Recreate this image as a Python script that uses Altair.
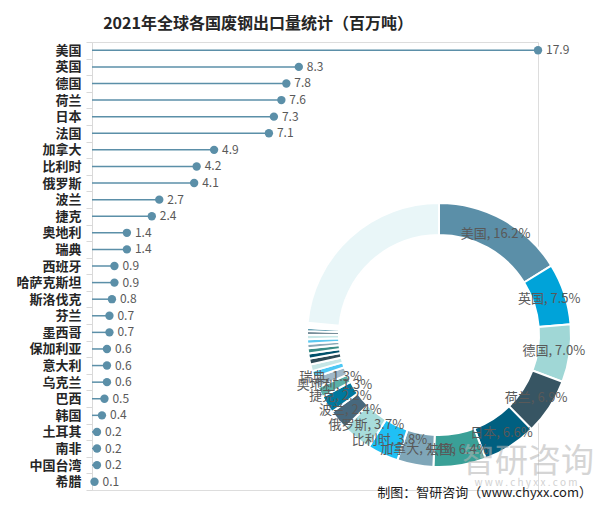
import altair as alt
import pandas as pd

countries = ["美国", "英国", "德国", "荷兰", "日本", "法国", "加拿大", "比利时", "俄罗斯",
             "波兰", "捷克", "奥地利", "瑞典", "西班牙", "哈萨克斯坦", "斯洛伐克", "芬兰",
             "墨西哥", "保加利亚", "意大利", "乌克兰", "巴西", "韩国", "土耳其", "南非",
             "中国台湾", "希腊"]
values = [17.9, 8.3, 7.8, 7.6, 7.3, 7.1, 4.9, 4.2, 4.1, 2.7, 2.4, 1.4, 1.4, 0.9, 0.9,
          0.8, 0.7, 0.7, 0.6, 0.6, 0.6, 0.5, 0.4, 0.2, 0.2, 0.2, 0.1]
other_name = "其他"
other_value = 26.0
pct_labels = [16.2, 7.5, 7.0, 6.9, 6.6, 6.4, 4.4, 3.8, 3.7, 2.4, 2.2, 1.3, 1.3]
slice_colors = ["#5b8fa8", "#00a3d9", "#a0d7d6", "#375563", "#005f80", "#3aa097",
                "#7fa6b8", "#1fc0f5", "#a8dcdb", "#47687d", "#00789e", "#5bb0a8",
                "#a0b8c8", "#4cc8f5", "#c5e6e6", "#2e4a56", "#00506b", "#3a8c86",
                "#8aa8b6", "#5cc8f0", "#c8e8e8", "#4a6878", "#006080", "#4a9a94",
                "#9ab4c4", "#30b8e8", "#b8e0e0", "#e9f6f8"]
title_text = "2021年全球各国废钢出口量统计（百万吨）"
source_text = "制图：智研咨询（www.chyxx.com）"
watermark_text = "智研咨询"
watermark_url = "w w w . c h y x x . c o m"

FONT = "Noto Sans CJK SC"
LINE = "#5b8fa8"

lol = pd.DataFrame({"country": countries, "value": values})

donut_names = countries + [other_name]
donut_vals = values + [other_value]
labels = [f"{n}, {p:.1f}%" for n, p in zip(countries, pct_labels)]
labels += [""] * (len(donut_names) - len(labels))
donut = pd.DataFrame({"name": donut_names, "v": donut_vals,
                      "idx": list(range(len(donut_names))), "label": labels})

W, H = 446, 448
CX, CY = 347, 293

y_enc = alt.Y("country:N", sort=countries,
              scale=alt.Scale(paddingInner=0, paddingOuter=0),
              axis=alt.Axis(title=None, labelFont=FONT, labelFontWeight="bold",
                            labelFontSize=13, labelColor="#262626",
                            tickBand="extent", tickSize=6, tickColor="#d9d9d9",
                            domainColor="#d9d9d9", labelPadding=5))
x_enc = alt.X("value:Q", scale=alt.Scale(domain=[0, 17.9]), axis=None)

base = alt.Chart(lol)
rules = base.transform_calculate(zero="0").mark_rule(color=LINE, strokeWidth=1.5).encode(
    y=y_enc, x=alt.X("zero:Q", scale=alt.Scale(domain=[0, 17.9]), axis=None), x2="value:Q")
dots = base.mark_circle(size=70, opacity=1, color=LINE).encode(y=y_enc, x=x_enc)
vals = base.mark_text(align="left", dx=8, fontSize=12, font=FONT, color="#595959").encode(
    y=y_enc, x=x_enc, text=alt.Text("value:Q", format=".1f"))

dbase = alt.Chart(donut)
arcs = dbase.mark_arc(innerRadius=100, outerRadius=132, stroke="white", strokeWidth=2).encode(
    theta=alt.Theta("v:Q", stack=True),
    color=alt.Color("name:N", scale=alt.Scale(domain=donut_names, range=slice_colors), legend=None),
    order=alt.Order("idx:Q"),
    x=alt.value(CX), y=alt.value(CY))
dlabels = dbase.mark_text(radius=116, fontSize=13, font=FONT, color="#595959").encode(
    theta=alt.Theta("v:Q", stack=True),
    order=alt.Order("idx:Q"),
    text="label:N",
    x=alt.value(CX), y=alt.value(CY))

wm = alt.Chart(pd.DataFrame({"t": [watermark_text]})).mark_text(
    fontSize=33, font=FONT, color="#b4b4b4", opacity=0.55).encode(
    text="t:N", x=alt.value(436), y=alt.value(420))
wm2 = alt.Chart(pd.DataFrame({"t": [watermark_url]})).mark_text(
    fontSize=10, font=FONT, color="#b4b4b4", opacity=0.6).encode(
    text="t:N", x=alt.value(434), y=alt.value(441))
src = alt.Chart(pd.DataFrame({"t": [source_text]})).mark_text(
    fontSize=13, font=FONT, color="#1a1a1a", align="right").encode(
    text="t:N", x=alt.value(500), y=alt.value(451))

chart = alt.layer(rules, dots, vals, arcs, wm, wm2, dlabels, src).properties(
    width=W, height=H,
    title=alt.Title(title_text, font=FONT, fontSize=16, fontWeight="bold", color="#262626",
                    anchor="middle", dx=-57, offset=4),
    autosize=alt.AutoSizeParams(type="none"),
    padding={"left": 84, "top": 34, "right": 59, "bottom": 12},
).configure_view(stroke="transparent").configure(background="white")

chart.save("out.html", embed_options={"renderer": "svg", "actions": False})
